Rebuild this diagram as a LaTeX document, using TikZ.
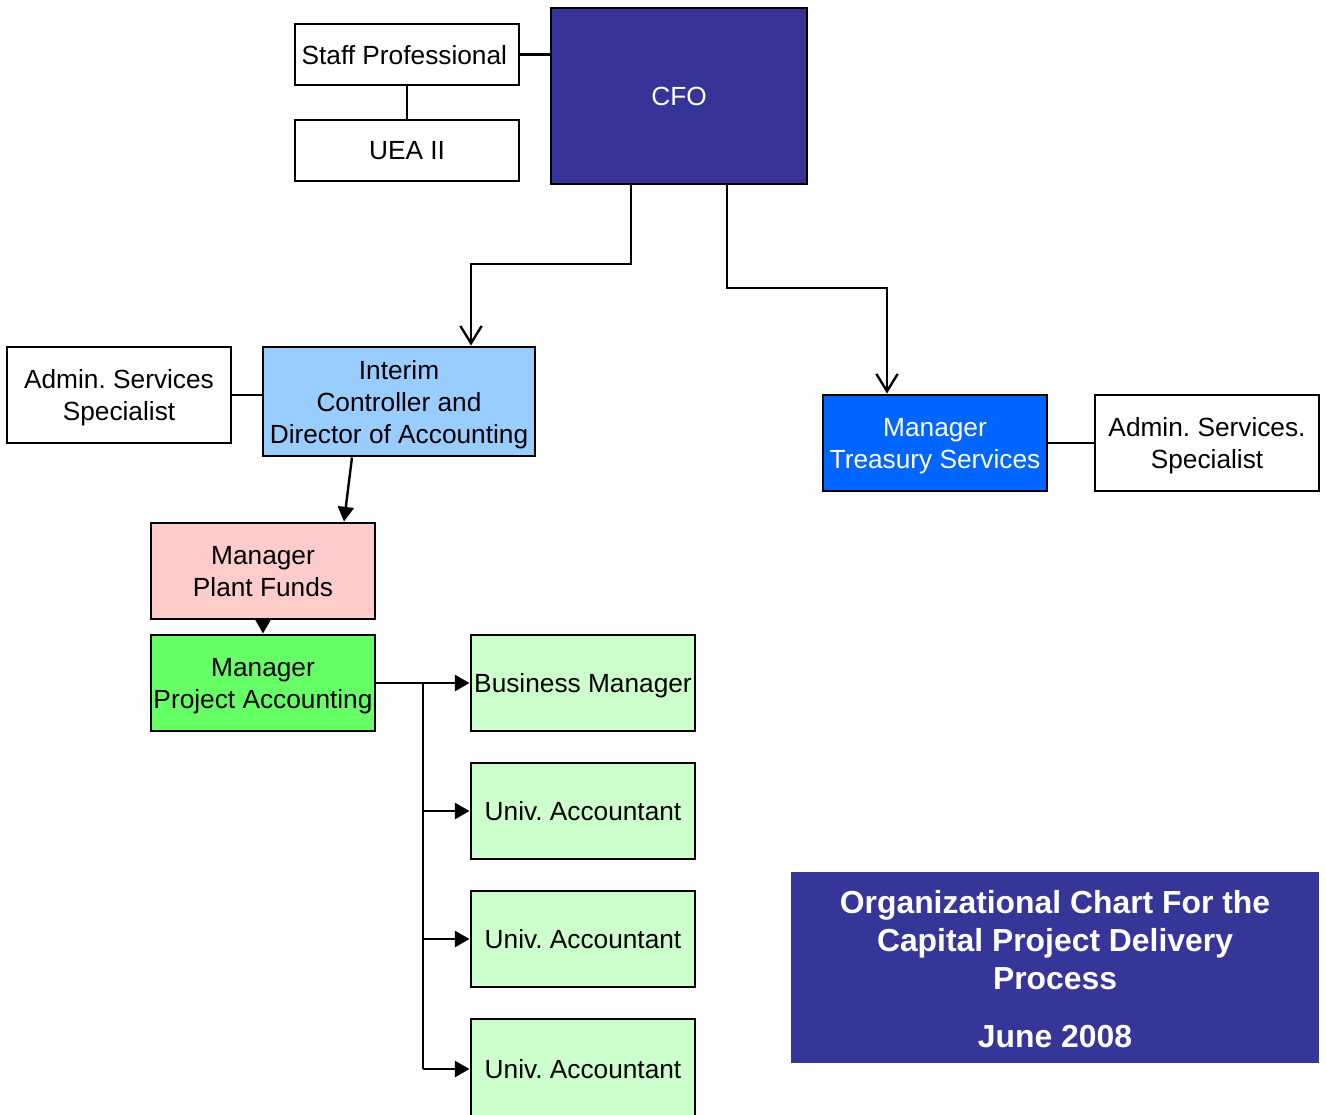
\documentclass[tikz,border=0pt]{standalone}
\usepackage{fontspec}
\setmainfont{Liberation Sans}
\frenchspacing
\usetikzlibrary{arrows.meta}
\definecolor{cfoblue}{RGB}{54,52,150}
\definecolor{titleblue}{RGB}{54,54,153}
\definecolor{ltblue}{HTML}{99CCFF}
\definecolor{treasblue}{HTML}{0066FF}
\definecolor{pink}{HTML}{FFCCCC}
\definecolor{grn}{HTML}{66FF66}
\definecolor{ltgrn}{HTML}{CCFFCC}
\begin{document}
\begin{tikzpicture}[x=0.75pt,y=-0.75pt,
  box/.style={draw=black,line width=2.2pt,align=center,inner sep=0pt,
    minimum width=168pt,minimum height=72pt,text depth=0pt,
    font=\fontsize{19.7}{24}\selectfont\frenchspacing},
  conn/.style={line width=1.8pt},
  openarr/.style={conn,-{Straight Barb[length=13pt,width=16pt,line width=1.8pt]}},
  filarr/.style={conn,-{Triangle[length=11pt,width=12pt]}}]
\useasboundingbox (0,0) rectangle (1326,1114);
\node[box,minimum height=45.75pt] (staff) at (407,54.5) {\hspace*{-4pt}Staff Professional};
\node[box,minimum height=45.75pt] (uea) at (407,150.5) {UEA II};
\node[box,fill=cfoblue,text=white,minimum width=192pt,minimum height=132pt] (cfo) at (679,96) {CFO};
\node[box] (adminL) at (119,395) {Admin. Services\\Specialist};
\node[box,fill=ltblue,minimum width=204pt,minimum height=81.75pt] (interim) at (399,401.5) {Interim\\Controller and\\Director of Accounting};
\node[box,fill=treasblue,text=white] (treas) at (935,443) {Manager\\Treasury Services};
\node[box] (adminR) at (1207,443) {Admin. Services.\\Specialist};
\node[box,fill=pink] (plant) at (263,571) {Manager\\Plant Funds};
\node[box,fill=grn] (proj) at (263,683) {Manager\\Project Accounting};
\node[box,fill=ltgrn] (bus) at (583,683) {Business Manager};
\node[box,fill=ltgrn] (ua1) at (583,811) {Univ. Accountant};
\node[box,fill=ltgrn] (ua2) at (583,939) {Univ. Accountant};
\node[box,fill=ltgrn,minimum height=75pt] (ua3) at (583,1069) {Univ. Accountant};
\node[fill=titleblue,inner sep=0pt,minimum width=396pt,minimum height=143.25pt] (titlebox) at (1055,967.5) {};
\node[text=white,align=center,inner sep=0pt,yshift=-1.5pt,
  font=\fontsize{23.9}{28.5}\selectfont\bfseries] (title) at (titlebox.center)
  {Organizational Chart For the\\Capital Project Delivery\\Process\\[15pt]June 2008};
% connectors
\draw[conn] (staff.east) -- (cfo.west |- staff.east);
\draw[conn] (staff.south) -- (uea.north);
\draw[conn] (adminL.east) -- (interim.west |- adminL.east);
\draw[conn] (treas.east) -- (adminR.west |- treas.east);
\coordinate (k1) at (471,264);
\coordinate (k2) at (887,288);
\draw[openarr] (cfo.south -| 631,0) |- (k1) -- (interim.north -| k1);
\draw[openarr] (cfo.south -| 727,0) |- (k2) -- (treas.north -| k2);
\draw[filarr] (interim.south -| 352,0) -- (plant.north -| 344,0);
\draw[filarr] (plant.south) -- (proj.north);
\coordinate (bx) at (423,683);
\draw[filarr] (proj.east) -- (bus.west);
\draw[conn] (bx) -- (bx |- ua3.west);
\draw[filarr] (bx |- ua1.west) -- (ua1.west);
\draw[filarr] (bx |- ua2.west) -- (ua2.west);
\draw[filarr] (bx |- ua3.west) -- (ua3.west);
\end{tikzpicture}
\end{document}
